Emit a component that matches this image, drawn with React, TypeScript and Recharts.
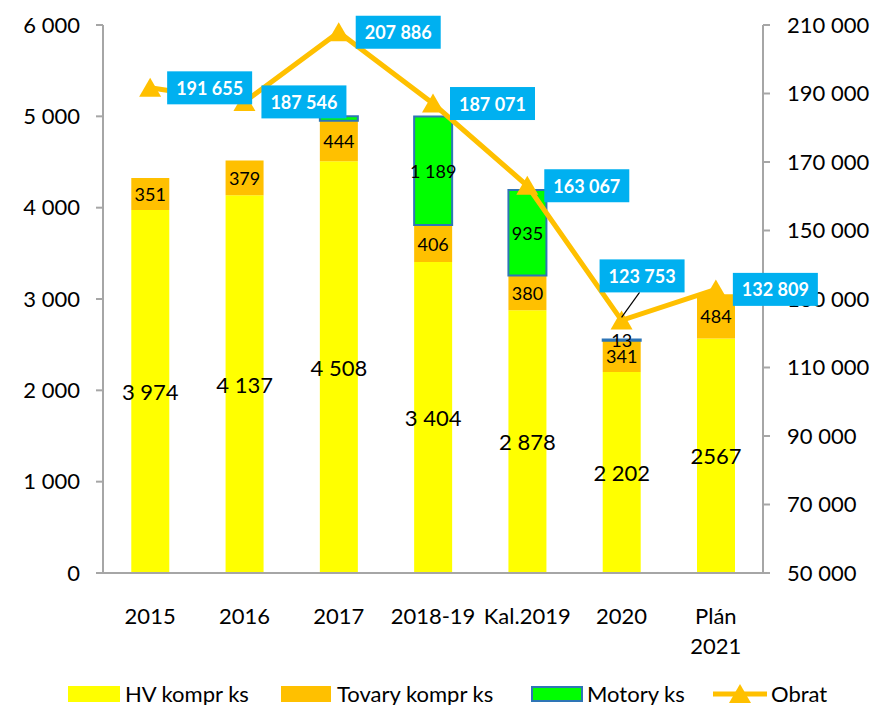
import {
  Bar,
  ComposedChart,
  LabelList,
  Line,
  XAxis,
  YAxis,
} from 'recharts';

const categories = ['2015', '2016', '2017', '2018-19', 'Kal.2019', '2020', 'Plán 2021'];
const hvKompr = [3974, 4137, 4508, 3404, 2878, 2202, 2567];
const tovaryKompr = [351, 379, 444, 406, 380, 341, 484];
const motory = [null, null, 48, 1189, 935, 13, null];
const obrat = [191655, 187546, 207886, 187071, 163067, 123753, 132809];

const hvLabels = ['3 974', '4 137', '4 508', '3 404', '2 878', '2 202', '2567'];
const tovaryLabels = ['351', '379', '444', '406', '380', '341', '484'];
const motoryLabels = ['', '', '', '1 189', '935', '13', ''];

const leftTicks = [0, 1000, 2000, 3000, 4000, 5000, 6000];
const rightTicks = [50000, 70000, 90000, 110000, 130000, 150000, 170000, 190000, 210000];

const FONT = 'Lato, sans-serif';
const AXIS = '#A6A6A6';
const YELLOW = '#FFFF00';
const ORANGE = '#FFC000';
const GREEN = '#00FF00';
const BLUE_EDGE = '#2E75B6';
const CYAN = '#00B0F0';

const data = categories.map((cat, i) => ({
  cat,
  hv: hvKompr[i],
  tovary: tovaryKompr[i],
  motory: motory[i],
  obrat: obrat[i],
}));

const fmt = (v: number) => String(v).replace(/\B(?=(\d{3})+(?!\d))/g, ' ');

// labels are looked up by value, since null entries shift the label index
function centerLabel(values: (number | null)[], labels: string[], size: number) {
  return (props: any) => {
    const { x, y, width, height, value } = props;
    const v = Array.isArray(value) ? value[1] - value[0] : value;
    const i = values.indexOf(v);
    const text = i >= 0 ? labels[i] : '';
    if (!text) return null;
    return (
      <text
        x={x + width / 2}
        y={y + height / 2}
        textAnchor="middle"
        dominantBaseline="central"
        fontSize={size}
        fontFamily={FONT}
        fill="#000"
      >
        {text}
      </text>
    );
  };
}

function ObratLabel(props: any) {
  const { x, y, value } = props;
  const w = 85;
  const h = 33;
  if (value === obrat[5]) {
    const bx = x - 22;
    const by = y - 61;
    return (
      <g>
        <line x1={x + 18} y1={by + h} x2={x} y2={y - 3} stroke="#000" strokeWidth={1.2} />
        <rect x={bx} y={by} width={w} height={h} fill={CYAN} />
        <text x={bx + w / 2} y={by + h / 2} textAnchor="middle" dominantBaseline="central"
          fontSize={18} fontWeight="bold" fontFamily={FONT} fill="#fff">
          {fmt(value)}
        </text>
      </g>
    );
  }
  const bx = x + 17;
  const by = y - h / 2;
  return (
    <g>
      <rect x={bx} y={by} width={w} height={h} fill={CYAN} />
      <text x={bx + w / 2} y={by + h / 2} textAnchor="middle" dominantBaseline="central"
        fontSize={18} fontWeight="bold" fontFamily={FONT} fill="#fff">
        {fmt(value)}
      </text>
    </g>
  );
}

function Triangle(props: any) {
  const { cx, cy, index } = props;
  if (cx == null || cy == null) return null;
  return (
    <path
      key={index}
      d={`M${cx},${cy - 10} L${cx + 11},${cy + 9} L${cx - 11},${cy + 9} Z`}
      fill={ORANGE}
    />
  );
}

function XTick(props: any) {
  const { x, y, payload } = props;
  const lines = String(payload.value).split(' ');
  return (
    <g>
      {lines.map((t, i) => (
        <text key={i} x={x} y={y + 34 + i * 30} textAnchor="middle" dominantBaseline="central"
          fontSize={22} fontFamily={FONT} fill="#000">
          {t}
        </text>
      ))}
    </g>
  );
}

const legendText: React.CSSProperties = {
  position: 'absolute',
  top: 682,
  fontSize: 22,
  fontFamily: FONT,
  lineHeight: '23px',
  whiteSpace: 'nowrap',
  color: '#000',
};

export default function App() {
  return (
    <div style={{ position: 'absolute', left: 0, top: 0, width: 877, height: 705, background: '#fff' }}>
      <ComposedChart
        width={877}
        height={670}
        data={data}
        margin={{ top: 25, right: 0, left: 0, bottom: 0 }}
        barCategoryGap="30%"
      >
        <XAxis
          dataKey="cat"
          height={97}
          interval={0}
          tick={<XTick />}
          axisLine={{ stroke: AXIS, strokeWidth: 2 }}
          tickLine={false}
        />
        <YAxis
          yAxisId="left"
          width={103}
          domain={[0, 6000]}
          ticks={leftTicks}
          tickFormatter={fmt}
          tick={{ fill: '#000', fontSize: 22, fontFamily: FONT }}
          tickSize={7}
          tickMargin={16}
          axisLine={{ stroke: AXIS, strokeWidth: 2 }}
          tickLine={{ stroke: AXIS, strokeWidth: 2 }}
        />
        <YAxis
          yAxisId="right"
          orientation="right"
          width={114}
          domain={[50000, 210000]}
          ticks={rightTicks}
          tickFormatter={fmt}
          tick={{ fill: '#000', fontSize: 22, fontFamily: FONT }}
          tickSize={7}
          tickMargin={17}
          axisLine={{ stroke: AXIS, strokeWidth: 2 }}
          tickLine={{ stroke: AXIS, strokeWidth: 2 }}
        />
        <Bar yAxisId="left" dataKey="hv" stackId="a" fill={YELLOW} isAnimationActive={false}>
          <LabelList dataKey="hv" content={centerLabel(hvKompr, hvLabels, 22)} />
        </Bar>
        <Bar yAxisId="left" dataKey="tovary" stackId="a" fill={ORANGE} isAnimationActive={false}>
          <LabelList dataKey="tovary" content={centerLabel(tovaryKompr, tovaryLabels, 18)} />
        </Bar>
        <Bar yAxisId="left" dataKey="motory" stackId="a" fill={GREEN} stroke={BLUE_EDGE} strokeWidth={2}
          isAnimationActive={false}>
          <LabelList dataKey="motory" content={centerLabel(motory, motoryLabels, 18)} />
        </Bar>
        <Line
          yAxisId="right"
          dataKey="obrat"
          stroke={ORANGE}
          strokeWidth={5}
          dot={<Triangle />}
          activeDot={false}
          isAnimationActive={false}
        >
          <LabelList dataKey="obrat" content={<ObratLabel />} />
        </Line>
      </ComposedChart>

      {/* legend */}
      <div style={{ position: 'absolute', left: 68, top: 686, width: 52, height: 16, background: YELLOW }} />
      <div style={{ ...legendText, left: 125 }}>HV kompr ks</div>
      <div style={{ position: 'absolute', left: 281, top: 686, width: 50, height: 16, background: ORANGE }} />
      <div style={{ ...legendText, left: 337 }}>Tovary kompr ks</div>
      <div style={{ position: 'absolute', left: 531, top: 686, width: 48, height: 12, background: GREEN,
        border: `2px solid ${BLUE_EDGE}` }} />
      <div style={{ ...legendText, left: 587 }}>Motory ks</div>
      <svg style={{ position: 'absolute', left: 713, top: 682 }} width={54} height={24}>
        <line x1={0} y1={12} x2={54} y2={12} stroke={ORANGE} strokeWidth={5} />
        <path d="M27,2 L38,21 L16,21 Z" fill={ORANGE} />
      </svg>
      <div style={{ ...legendText, left: 771 }}>Obrat</div>
    </div>
  );
}
